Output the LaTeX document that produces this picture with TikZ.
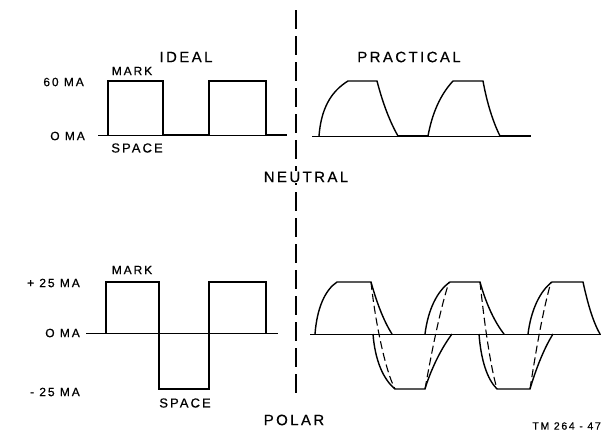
\documentclass[tikz,border=0pt]{standalone}
\usepackage{fontspec}
\newfontfamily\labfont[LetterSpace=16,FakeBold=0.6]{Liberation Sans}
\begin{document}
\begin{tikzpicture}[x=1pt,y=-1pt,
  wave/.style={line width=1.4pt, line join=miter},
  heavy/.style={line width=2.6pt},
  axis/.style={line width=1pt},
  dashwave/.style={line width=1.1pt, dash pattern=on 8pt off 4pt},
  divider/.style={line width=1.4pt, dash pattern=on 19pt off 7pt},
  big/.style={font=\labfont\fontsize{15}{15}\selectfont, inner sep=0pt},
  mid/.style={font=\labfont\fontsize{13}{13}\selectfont, inner sep=0pt},
  small/.style={font=\labfont\fontsize{12}{12}\selectfont, inner sep=0pt},
  tiny/.style={font=\labfont\fontsize{10.5}{10.5}\selectfont, inner sep=0pt},
]
\useasboundingbox (0,0) rectangle (602,434);

% divider
\coordinate (divtop) at (296,10);
\coordinate (divbot) at (296,396);
\draw[divider] (divtop) -- (divbot);

% ---------- NEUTRAL, ideal ----------
\draw[axis] (98,135) -- (287,135);
\draw[wave] (108,135) -- (108,81) -- (163,81) -- (163,135);
\draw[heavy] (163,135) -- (209,135);
\draw[wave] (209,135) -- (209,81) -- (266,81) -- (266,135);
\draw[heavy] (266,135) -- (287,135);

% ---------- NEUTRAL, practical ----------
\draw[axis] (312,136) -- (531,136);
\draw[wave] (319,136) .. controls (321,110) and (330,92) .. (348,81) -- (377,81)
  .. controls (383,104) and (390,122) .. (398,136);
\draw[heavy] (398,136) -- (428,136);
\draw[wave] (428,136) .. controls (432,114) and (440,95) .. (453,81) -- (483,81)
  .. controls (487,103) and (493,122) .. (500,136);
\draw[heavy] (500,136) -- (531,136);

% ---------- POLAR, ideal ----------
\draw[axis] (86,333) -- (278,333);
\draw[wave] (106,333) -- (106,282) -- (159,282) -- (159,389) -- (209,389)
  -- (209,282) -- (266,282) -- (266,333);

% ---------- POLAR, practical ----------
\draw[axis] (310,334) -- (601,334);
% positive pulses
\draw[wave] (315,334) .. controls (317,308) and (325,290) .. (337,282) -- (371,282)
  .. controls (376,300) and (383,320) .. (392,334);
\draw[wave] (425,334) .. controls (428,310) and (437,291) .. (450,282) -- (480,282)
  .. controls (485,300) and (493,320) .. (504,334);
\draw[wave] (528,334) .. controls (531,310) and (540,291) .. (552,282) -- (583,282)
  .. controls (587,300) and (592,320) .. (600,334);
% negative pulses
\draw[wave] (373,334) .. controls (375,360) and (383,379) .. (395,389) -- (425,389)
  .. controls (430,372) and (440,350) .. (452,334);
\draw[wave] (479,334) .. controls (481,360) and (487,379) .. (497,389) -- (530,389)
  .. controls (535,372) and (543,350) .. (553,334);
% dashed transitions
\draw[dashwave] (371,282) .. controls (375,320) and (385,370) .. (395,389);
\draw[dashwave] (425,389) .. controls (432,350) and (440,310) .. (449,282);
\draw[dashwave] (480,282) .. controls (484,320) and (490,365) .. (497,389);
\draw[dashwave] (530,389) .. controls (536,350) and (543,310) .. (551,282);

% ---------- labels ----------
\node[big] (ideal) at (186,57) {IDEAL};
\node[big] (practical) at (409,57) {PRACTICAL};
\node[big, fill=white, inner sep=1pt] (neutral) at (306,177) {NEUTRAL};
\node[big] (polar) at (294,420) {POLAR};

\node[small] (markn) at (132,71) {MARK};
\node[mid] (spacen) at (137,148) {SPACE};
\node[small, anchor=east] (ma60) at (84,82) {60 MA};
\node[small, anchor=east] (ma0n) at (85,136) {O MA};

\node[small] (markp) at (132,270) {MARK};
\node[mid] (spacep) at (185,403) {SPACE};
\node[small, anchor=east] (ma25) at (80,283) {+ 25 MA};
\node[small, anchor=east] (ma0p) at (80,333) {O MA};
\node[small, anchor=east] (mam25) at (80,392) {- 25 MA};

\node[tiny, anchor=east] (tm) at (601,426) {TM 264 - 47};
\end{tikzpicture}
\end{document}
